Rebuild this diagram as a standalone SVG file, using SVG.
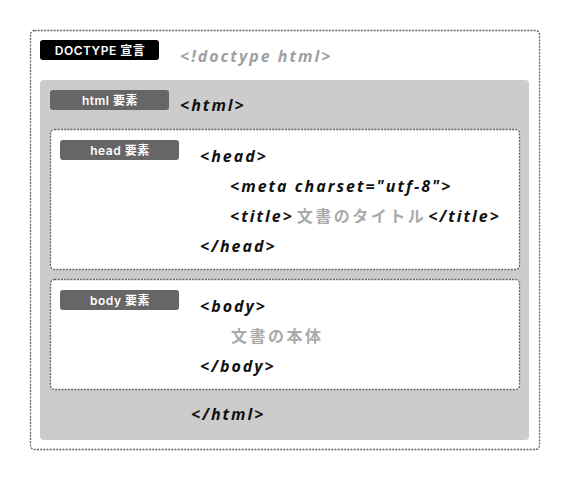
<svg xmlns="http://www.w3.org/2000/svg" width="570" height="480" viewBox="0 0 570 480">
<style>
.dot{stroke:#666;stroke-width:1.3;stroke-dasharray:2 1.2}
.lbl{font-family:Inter,"Noto Sans CJK JP",sans-serif;font-weight:600;font-size:12px;letter-spacing:0.5px;fill:#fff;text-anchor:middle}
.code{font-family:"Open Sans","Noto Sans CJK JP",sans-serif;font-weight:700;font-style:italic;font-size:16px;letter-spacing:2px;fill:#111}
.gray{fill:#a0a0a0}
.jp{font-family:"Noto Sans CJK JP",sans-serif;font-weight:700;font-style:normal;font-size:16px;letter-spacing:2.5px;fill:#aaa}
</style>
<rect width="570" height="480" fill="#fff"/>
<g id="doctype">
<rect class="dot" x="30.5" y="30.5" width="509" height="419" rx="4" fill="none"/>
<rect x="40" y="40" width="119" height="20" rx="3" fill="#000"/>
<text class="lbl" x="100" y="54.5">DOCTYPE 宣言</text>
<text class="code gray" x="180" y="62">&lt;!doctype html&gt;</text>
</g>
<g id="html">
<rect x="40" y="80" width="489" height="360" rx="4" fill="#ccc"/>
<rect x="50" y="90" width="119" height="20" rx="3" fill="#666"/>
<text class="lbl" x="110" y="104.5">html 要素</text>
<text class="code" x="180" y="111">&lt;html&gt;</text>
<text class="code" x="191" y="420">&lt;/html&gt;</text>
</g>
<g id="head">
<rect class="dot" x="50.5" y="129.5" width="469" height="140" rx="4" fill="#fff"/>
<rect x="60" y="140" width="119" height="20" rx="3" fill="#666"/>
<text class="lbl" x="120" y="154.5">head 要素</text>
<text class="code" x="200" y="162">&lt;head&gt;</text>
<text class="code" x="230" y="192">&lt;meta charset="utf-8"&gt;</text>
<text class="code" x="230" y="222">&lt;title&gt;<tspan class="jp" dx="3">文書のタイトル</tspan><tspan dx="2">&lt;/title&gt;</tspan></text>
<text class="code" x="200" y="252">&lt;/head&gt;</text>
</g>
<g id="body">
<rect class="dot" x="50.5" y="279.5" width="469" height="110" rx="4" fill="#fff"/>
<rect x="60" y="290" width="119" height="20" rx="3" fill="#666"/>
<text class="lbl" x="120" y="304.5">body 要素</text>
<text class="code" x="200" y="312">&lt;body&gt;</text>
<text class="jp" x="231" y="342">文書の本体</text>
<text class="code" x="200" y="372">&lt;/body&gt;</text>
</g>
<g id="connectors"></g>
</svg>
